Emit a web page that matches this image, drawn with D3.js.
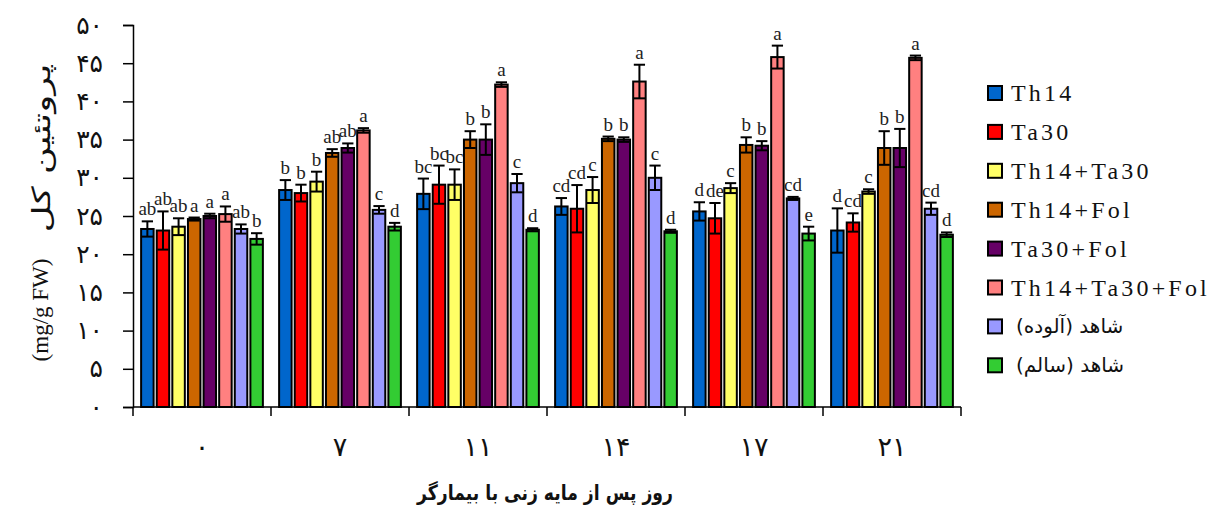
<!DOCTYPE html>
<html>
<head>
<meta charset="utf-8">
<script src="https://cdn.jsdelivr.net/npm/d3@7"></script>
<style>
  body { margin: 0; background: #fff; }
  svg { display: block; }
</style>
</head>
<body>
<svg id="chart" width="1213" height="514"></svg>
<script>
// days after inoculation (Persian digits)
const categories = ['۰', '۷', '۱۱', '۱۴', '۱۷', '۲۱'];
const series = ['Th14', 'Ta30', 'Th14+Ta30', 'Th14+Fol', 'Ta30+Fol', 'Th14+Ta30+Fol', 'شاهد (آلوده)', 'شاهد (سالم)'];
const colors = ['#0066CC', '#FF0000', '#FFFF66', '#CC6600', '#660066', '#FF8080', '#9999FF', '#33CC33'];

// protein values per series, one per day
const values = [
    [23.3, 28.4, 27.9, 26.25, 25.6, 23.1],
    [23.1, 28.0, 29.1, 25.95, 24.7, 24.15],
    [23.6, 29.5, 29.1, 28.4, 28.65, 28.2],
    [24.6, 33.25, 35.0, 35.1, 34.3, 33.9],
    [25.0, 33.9, 35.0, 35.0, 34.2, 33.9],
    [25.25, 36.2, 42.2, 42.6, 45.8, 45.7],
    [23.3, 25.8, 29.3, 30.0, 27.3, 25.95],
    [22.0, 23.6, 23.2, 23.0, 22.7, 22.55]
];
const errors = [
    [1.0, 1.3, 2.0, 1.1, 1.2, 2.9],
    [2.5, 1.1, 2.5, 3.1, 2.0, 1.2],
    [1.1, 1.3, 2.0, 1.7, 0.65, 0.3],
    [0.2, 0.5, 1.1, 0.3, 1.0, 2.2],
    [0.3, 0.6, 2.0, 0.3, 0.6, 2.5],
    [1.0, 0.3, 0.3, 2.2, 1.5, 0.3],
    [0.6, 0.5, 1.2, 1.6, 0.2, 0.8],
    [0.75, 0.5, 0.2, 0.2, 0.9, 0.3]
];
const letters = [
    ['ab', 'b', 'bc', 'cd', 'd', 'd'],
    ['ab', 'b', 'bc', 'cd', 'de', 'cd'],
    ['ab', 'b', 'bc', 'c', 'c', 'c'],
    ['a', 'ab', 'b', 'b', 'b', 'b'],
    ['a', 'ab', 'b', 'b', 'b', 'b'],
    ['a', 'a', 'a', 'a', 'a', 'a'],
    ['ab', 'c', 'c', 'c', 'cd', 'cd'],
    ['b', 'd', 'd', 'd', 'e', 'd']
];
const yTicks = [0, 5, 10, 15, 20, 25, 30, 35, 40, 45, 50];

(function() {
    const svg = d3.select('#chart');
    const plotLeft = 133, plotRight = 961, plotTop = 25, plotBottom = 407;
    const serif = '"Liberation Serif", "Times New Roman", serif';
    const arabic = '"DejaVu Sans", sans-serif';

    const toFa = n => String(n).replace(/\d/g, d => '۰۱۲۳۴۵۶۷۸۹'[d]);

    const x0 = d3.scaleBand().domain(categories).range([plotLeft, plotRight]);
    const x1 = d3.scaleBand().domain(series).range([0, x0.bandwidth()])
        .paddingInner(0.2).paddingOuter(0.52);
    const y = d3.scaleLinear().domain([0, 50]).range([plotBottom, plotTop]);

    // flatten into records
    const records = [];
    series.forEach((s, si) => {
        categories.forEach((c, ci) => {
            records.push({ s, si, c, v: values[si][ci], e: errors[si][ci], l: letters[si][ci] });
        });
    });

    // Y axis
    const yAxis = svg.append('g')
        .attr('transform', `translate(${plotLeft},0)`)
        .call(d3.axisLeft(y).tickValues(yTicks).tickSize(10).tickFormat(toFa));
    yAxis.select('.domain').attr('stroke', '#000').attr('stroke-width', 1.5);
    yAxis.selectAll('.tick line').attr('stroke', '#000').attr('stroke-width', 1.5);
    yAxis.selectAll('.tick text')
        .attr('x', -30)
        .attr('font-family', arabic)
        .attr('font-size', 25)
        .attr('fill', '#111');

    // X axis with boundary ticks
    const xg = svg.append('g');
    xg.append('line')
        .attr('x1', plotLeft).attr('x2', plotRight)
        .attr('y1', plotBottom).attr('y2', plotBottom)
        .attr('stroke', '#000').attr('stroke-width', 1.5);
    const bounds = categories.map(c => x0(c)).concat([plotRight]);
    xg.selectAll('.bt').data(bounds).enter().append('line')
        .attr('x1', d => d).attr('x2', d => d)
        .attr('y1', plotBottom).attr('y2', plotBottom + 9)
        .attr('stroke', '#000').attr('stroke-width', 1.5);
    xg.selectAll('.cl').data(categories).enter().append('text')
        .attr('x', d => x0(d) + x0.bandwidth() / 2)
        .attr('y', 456)
        .attr('text-anchor', 'middle')
        .attr('font-family', arabic)
        .attr('font-size', 27)
        .attr('fill', '#111')
        .text(d => d);

    // Bars
    svg.append('g').selectAll('rect').data(records).enter().append('rect')
        .attr('x', d => x0(d.c) + x1(d.s))
        .attr('y', d => y(d.v))
        .attr('width', x1.bandwidth())
        .attr('height', d => plotBottom - y(d.v))
        .attr('fill', d => colors[d.si])
        .attr('stroke', '#000')
        .attr('stroke-width', 2);

    // Error bars
    const cap = x1.bandwidth() * 0.9;
    const eb = svg.append('g').attr('stroke', '#000').attr('stroke-width', 2);
    records.forEach(d => {
        const cx = x0(d.c) + x1(d.s) + x1.bandwidth() / 2;
        const yt = y(d.v + d.e), yb = y(d.v - d.e);
        eb.append('line').attr('x1', cx).attr('x2', cx).attr('y1', yt).attr('y2', yb);
        eb.append('line').attr('x1', cx - cap / 2).attr('x2', cx + cap / 2).attr('y1', yt).attr('y2', yt);
        eb.append('line').attr('x1', cx - cap / 2).attr('x2', cx + cap / 2).attr('y1', yb).attr('y2', yb);
    });

    // Significance letters
    svg.append('g').selectAll('text').data(records).enter().append('text')
        .attr('x', d => x0(d.c) + x1(d.s) + x1.bandwidth() / 2)
        .attr('y', d => y(d.v + d.e) - 6)
        .attr('text-anchor', 'middle')
        .attr('font-family', serif)
        .attr('font-size', 19)
        .attr('fill', '#222')
        .text(d => d.l);

    // Legend
    const legend = svg.append('g').attr('transform', 'translate(988,93)');
    series.forEach((s, i) => {
        const g = legend.append('g').attr('transform', `translate(0,${i * 38.9})`);
        g.append('rect')
            .attr('x', 0).attr('y', -7)
            .attr('width', 14).attr('height', 14)
            .attr('fill', colors[i])
            .attr('stroke', '#000').attr('stroke-width', 2);
        const isFa = i >= 6;
        const t = g.append('text')
            .attr('y', isFa ? 7 : 8)
            .attr('fill', '#111')
            .text(s);
        if (isFa) {
            t.attr('x', 28).attr('direction', 'rtl').attr('text-anchor', 'end')
                .attr('font-family', arabic).attr('font-size', 20);
        } else {
            t.attr('x', 23).attr('font-family', serif).attr('font-size', 24)
                .attr('letter-spacing', 3.2);
        }
    });

    // Axis titles: Persian part and unit drawn separately (rotated)
    svg.append('text')
        .attr('transform', 'translate(50,148) rotate(-90) scale(1.5,1)')
        .attr('text-anchor', 'middle')
        .attr('direction', 'rtl')
        .attr('font-family', arabic)
        .attr('font-size', 25)
        .attr('fill', '#111')
        .text('پروتئین کل');
    svg.append('text')
        .attr('transform', 'translate(48,310) rotate(-90)')
        .attr('text-anchor', 'middle')
        .attr('font-family', serif)
        .attr('font-size', 23)
        .attr('fill', '#111')
        .text('(mg/g FW)');

    svg.append('text')
        .attr('transform', 'translate(545,500) scale(0.82,1)')
        .attr('text-anchor', 'middle')
        .attr('direction', 'rtl')
        .attr('font-family', arabic)
        .attr('font-size', 21)
        .attr('font-weight', 'bold')
        .attr('fill', '#111')
        .text('روز پس از مایه زنی با بیمارگر');
})();
</script>
</body>
</html>
